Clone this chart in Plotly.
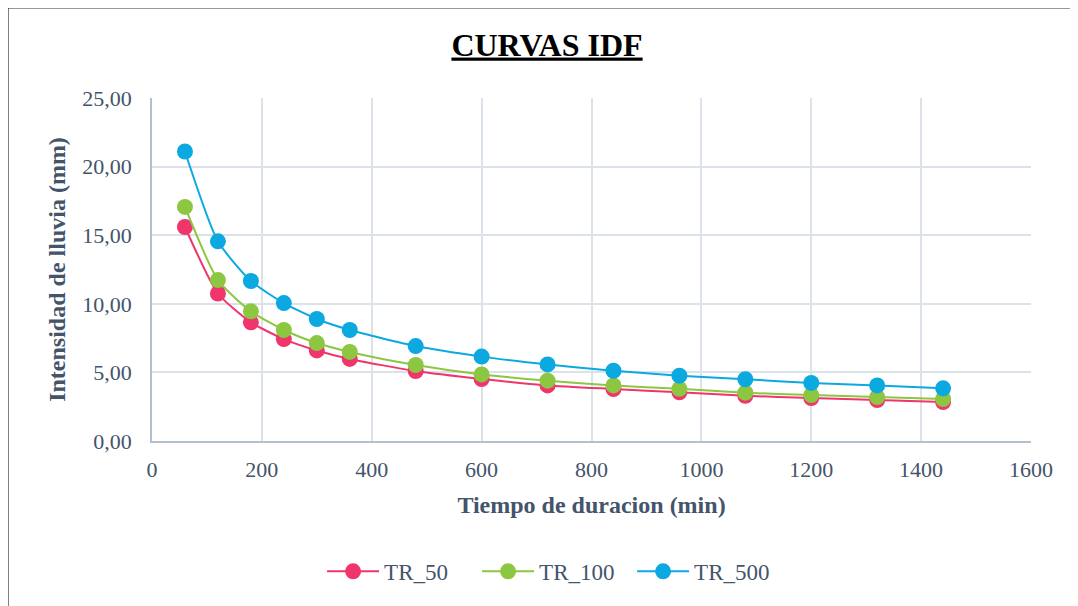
import plotly.graph_objects as go

durations = [60, 120, 180, 240, 300, 360, 480, 600, 720, 840, 960, 1080, 1200, 1320, 1440]
tr_50 = [15.6, 10.75, 8.65, 7.43, 6.6, 5.98, 5.1, 4.52, 4.05, 3.79, 3.55, 3.3, 3.13, 2.99, 2.84]
tr_100 = [17.06, 11.73, 9.45, 8.09, 7.14, 6.49, 5.54, 4.85, 4.4, 4.05, 3.8, 3.52, 3.35, 3.2, 3.06]
tr_500 = [21.1, 14.55, 11.66, 10.05, 8.89, 8.09, 6.92, 6.15, 5.58, 5.12, 4.76, 4.5, 4.23, 4.05, 3.84]

series = [("TR_50", tr_50, "#EF356C"), ("TR_100", tr_100, "#8DC641"), ("TR_500", tr_500, "#0BA9E0")]

fig = go.Figure()
for name, vals, col in series:
    fig.add_trace(go.Scatter(
        x=durations, y=vals, name=name, mode="lines+markers",
        line=dict(color=col, width=2, shape="spline", smoothing=0.6),
        marker=dict(color=col, size=16),
    ))

FF = "Liberation Serif"
axis_col = "#44546A"
fig.update_layout(
    width=1078, height=606,
    margin=dict(l=144, r=55, t=90, b=173, autoexpand=False),
    paper_bgcolor="white", plot_bgcolor="white",
    separators=",.",
    font=dict(family=FF, color=axis_col, size=20),
    title=dict(text="<b><u>CURVAS IDF</u></b>", x=0.5, xanchor="center", y=0.94, yanchor="middle",
               font=dict(family=FF, size=32, color="#000000")),
    xaxis=dict(range=[0, 1600], dtick=200, tickformat="d", showgrid=True, gridcolor="#DCE2EA", gridwidth=1.5,
               showline=True, linecolor="#B4C0D0", linewidth=1.5, zeroline=False, automargin=False,
               ticks="", ticklabelstandoff=8, tickfont=dict(family=FF, size=22, color=axis_col),
               title=dict(text="<b>Tiempo de duracion (min)</b>", font=dict(family=FF, size=24, color=axis_col), standoff=15)),
    yaxis=dict(range=[0, 25], dtick=5, tickformat=".2f", showgrid=True, gridcolor="#DCE2EA", gridwidth=1.5,
               showline=True, linecolor="#B4C0D0", linewidth=1.5, zeroline=False, automargin=False,
               ticks="", ticklabelstandoff=14, tickfont=dict(family=FF, size=22, color=axis_col),
               title=dict(text="<b>Intensidad de lluvia (mm)</b>", font=dict(family=FF, size=24, color=axis_col), standoff=10)),
    legend=dict(orientation="h", x=0.458, xanchor="center", y=-0.38, yanchor="middle",
                font=dict(family=FF, size=23, color=axis_col), itemwidth=52, entrywidth=88, tracegroupgap=0),
    showlegend=True,
)
fig.add_shape(type="rect", xref="paper", yref="paper", x0=-0.1638, x1=1.0455, y0=-0.6, y1=1.2624,
              line=dict(color="#333333", width=1.2), fillcolor="rgba(0,0,0,0)", layer="below")
fig.write_html("out.html")
